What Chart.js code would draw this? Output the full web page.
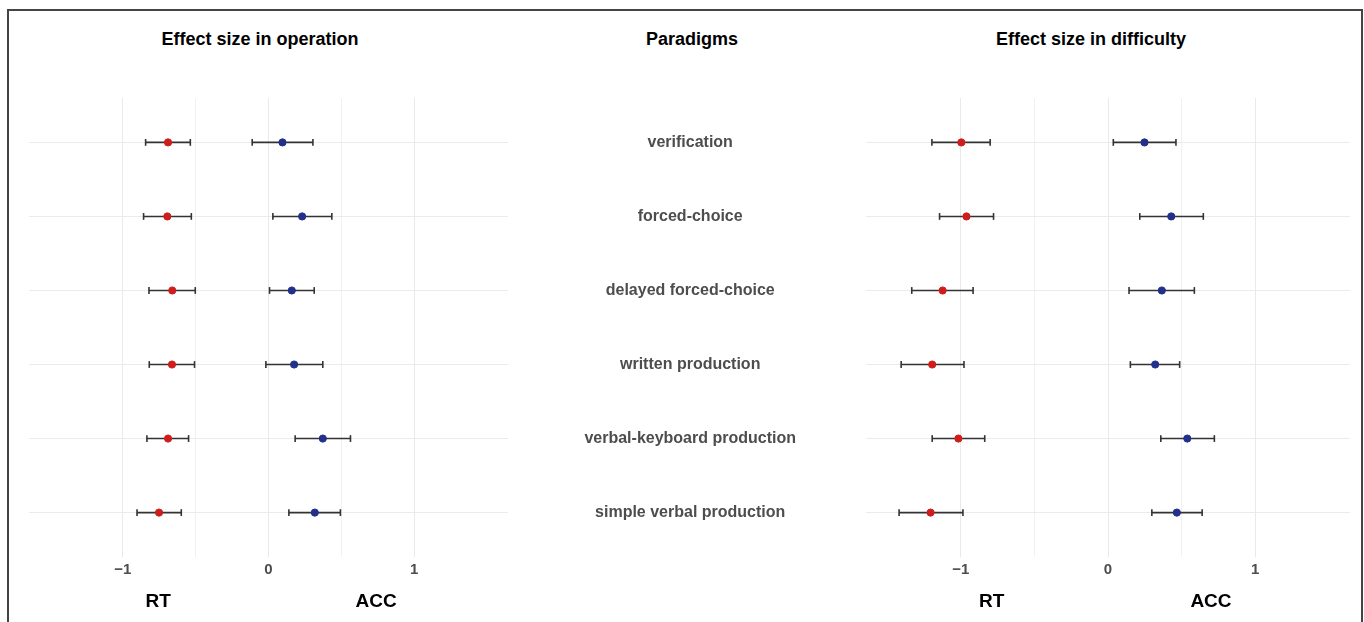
<!DOCTYPE html>
<html>
<head>
<meta charset="utf-8">
<script src="https://cdn.jsdelivr.net/npm/chart.js@4.4.1/dist/chart.umd.min.js"></script>
<style>
    body { margin: 0; background: #fff; font-family: "Liberation Sans", Arial, sans-serif; }
    #frame { position: absolute; left: 7px; top: 9px; width: 1356px; height: 640px; border: 2px solid #444; box-sizing: border-box; pointer-events: none; }
    .title { position: absolute; top: 29px; font-weight: bold; font-size: 18px; color: #000; transform: translateX(-50%); white-space: nowrap; }
    canvas { position: absolute; top: 0; }
</style>
</head>
<body>
<div class="title" style="left:260px">Effect size in operation</div>
<div class="title" style="left:692px">Paradigms</div>
<div class="title" style="left:1091px">Effect size in difficulty</div>
<canvas id="operationChart" width="540" height="622" style="left:0"></canvas>
<canvas id="paradigmChart" width="260" height="622" style="left:560px"></canvas>
<canvas id="difficultyChart" width="528" height="622" style="left:836px"></canvas>
<div id="frame"></div>
<script>
// Paradigms, top to bottom
const paradigms = ['verification', 'forced-choice', 'delayed forced-choice', 'written production', 'verbal-keyboard production', 'simple verbal production'];

// Effect size in operation (estimate, lower, upper)
const opRT = [-0.69, -0.695, -0.661, -0.663, -0.69, -0.752];
const opRTLow = [-0.844, -0.858, -0.821, -0.819, -0.835, -0.903];
const opRTHigh = [-0.537, -0.53, -0.503, -0.508, -0.549, -0.599];
const opACC = [0.096, 0.231, 0.16, 0.176, 0.373, 0.318];
const opACCLow = [-0.112, 0.03, 0.007, -0.018, 0.183, 0.14];
const opACCHigh = [0.305, 0.435, 0.314, 0.373, 0.563, 0.494];

// Effect size in difficulty (estimate, lower, upper)
const difRT = [-0.997, -0.962, -1.124, -1.195, -1.017, -1.206];
const difRTLow = [-1.197, -1.145, -1.334, -1.406, -1.195, -1.42];
const difRTHigh = [-0.801, -0.778, -0.917, -0.979, -0.838, -0.986];
const difACC = [0.248, 0.43, 0.366, 0.321, 0.539, 0.468];
const difACCLow = [0.036, 0.216, 0.143, 0.152, 0.359, 0.298];
const difACCHigh = [0.462, 0.648, 0.587, 0.487, 0.723, 0.64];

// Axis range and group labels under the axis
const xMin = -1.645, xMax = 1.645;
const opGroupLabelX = [-0.757, 0.739];
const difGroupLabelX = [-0.79, 0.70];
const groupLabels = ['RT', 'ACC'];

const redColor = '#cf1d1d';
const blueColor = '#22308c';
const barColor = '#333333';

Chart.defaults.font.family = '"Liberation Sans", Arial, sans-serif';

// y value of each row (1 = top)
function rowY(i) { return i + 1; }

function points(values) {
    return values.map((v, i) => ({ x: v, y: rowY(i) }));
}

// error bars as one line with gaps between rows
function bars(lows, highs) {
    const data = [];
    lows.forEach((lo, i) => {
        data.push({ x: lo, y: rowY(i) });
        data.push({ x: highs[i], y: rowY(i) });
        data.push({ x: highs[i], y: null });
    });
    return data;
}

function onHalfStep(v) {
    return Math.abs(v * 2 - Math.round(v * 2)) < 1e-6;
}

const yScale = {
    type: 'linear',
    min: 0.4,
    max: 6.6,
    reverse: true,
    ticks: { display: false, stepSize: 1 },
    border: { display: false },
    grid: {
        drawTicks: false,
        color: c => Number.isInteger(c.tick.value) ? '#ebebeb' : 'rgba(0,0,0,0)'
    },
    afterFit: scale => { scale.width = 0; }
};

// draws "RT" and "ACC" below the tick labels
const groupLabelPlugin = {
    id: 'groupLabels',
    afterDraw(chart, args, opts) {
        const ctx = chart.ctx;
        const x = chart.scales.x;
        ctx.save();
        ctx.font = 'bold 19px "Liberation Sans", Arial, sans-serif';
        ctx.fillStyle = '#000';
        ctx.textAlign = 'center';
        ctx.textBaseline = 'middle';
        opts.positions.forEach((v, i) => {
            ctx.fillText(groupLabels[i], x.getPixelForValue(v), 602);
        });
        ctx.restore();
    }
};

function makePanel(id, rt, rtLow, rtHigh, acc, accLow, accHigh, labelX, padLeft, padRight) {
    const ctx = document.getElementById(id).getContext('2d');
    return new Chart(ctx, {
        type: 'scatter',
        data: {
            datasets: [
                { data: points(rt), backgroundColor: redColor, borderColor: redColor, pointRadius: 3.6, order: 0 },
                { data: points(acc), backgroundColor: blueColor, borderColor: blueColor, pointRadius: 3.6, order: 0 },
                {
                    data: bars(rtLow, rtHigh), showLine: true, spanGaps: false,
                    borderColor: barColor, borderWidth: 1.6,
                    pointStyle: 'line', rotation: 90, pointRadius: 3.4, pointBorderWidth: 1.6, pointBorderColor: barColor,
                    order: 1
                },
                {
                    data: bars(accLow, accHigh), showLine: true, spanGaps: false,
                    borderColor: barColor, borderWidth: 1.6,
                    pointStyle: 'line', rotation: 90, pointRadius: 3.4, pointBorderWidth: 1.6, pointBorderColor: barColor,
                    order: 1
                }
            ]
        },
        options: {
            responsive: false,
            animation: false,
            layout: { padding: { left: padLeft, right: padRight, top: 98, bottom: 20 } },
            scales: {
                x: {
                    type: 'linear',
                    min: xMin,
                    max: xMax,
                    ticks: {
                        stepSize: 0.5,
                        padding: 4,
                        color: '#4d4d4d',
                        font: { size: 15, weight: 'bold' },
                        maxRotation: 0,
                        autoSkip: false,
                        callback: v => Number.isInteger(v) ? (v < 0 ? '\u2212' + Math.abs(v) : String(v)) : ''
                    },
                    border: { display: false },
                    grid: {
                        drawTicks: false,
                        color: c => onHalfStep(c.tick.value) ? (Number.isInteger(c.tick.value) ? '#e9e9e9' : '#f1f1f1') : 'rgba(0,0,0,0)'
                    },
                    afterFit: scale => { scale.height = 45; }
                },
                y: yScale
            },
            plugins: {
                legend: { display: false },
                tooltip: { enabled: false },
                groupLabels: { positions: labelX }
            }
        },
        plugins: [groupLabelPlugin]
    });
}

makePanel('operationChart', opRT, opRTLow, opRTHigh, opACC, opACCLow, opACCHigh, opGroupLabelX, 29, 32);
makePanel('difficultyChart', difRT, difRTLow, difRTHigh, difACC, difACCLow, difACCHigh, difGroupLabelX, 30, 14);

// middle column: paradigm names on a y axis with the same rows
new Chart(document.getElementById('paradigmChart').getContext('2d'), {
    type: 'scatter',
    data: { datasets: [{ data: [] }] },
    options: {
        responsive: false,
        animation: false,
        layout: { padding: { left: 0, right: 0, top: 98, bottom: 65 } },
        scales: {
            x: { display: false, min: 0, max: 1 },
            y: {
                type: 'linear',
                min: 0.4,
                max: 6.6,
                reverse: true,
                border: { display: false },
                grid: { display: false, drawTicks: false },
                ticks: {
                    stepSize: 1,
                    padding: 0,
                    autoSkip: false,
                    crossAlign: 'center',
                    color: '#4d4d4d',
                    font: { size: 16, weight: 'bold' },
                    callback: v => Number.isInteger(v) ? paradigms[v - 1] : ''
                },
                afterFit: scale => { scale.width = 236; }
            }
        },
        plugins: { legend: { display: false }, tooltip: { enabled: false } }
    }
});
</script>
</body>
</html>
